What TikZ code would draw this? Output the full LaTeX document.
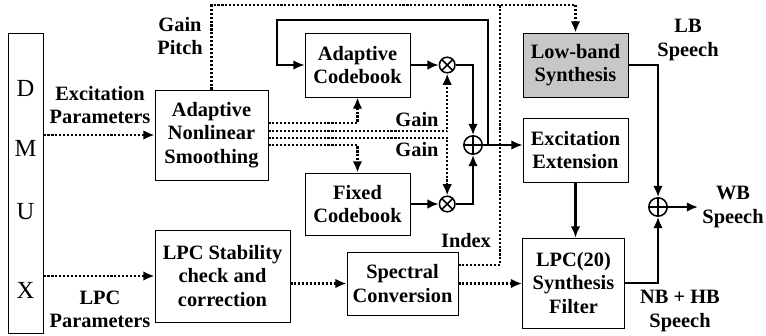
\documentclass[tikz,border=0pt]{standalone}
\usepackage{fontspec}
\setmainfont{Liberation Serif}
\usetikzlibrary{arrows.meta, positioning}

\begin{document}
\begin{tikzpicture}[
    blk/.style={
      draw, line width=0.6pt, align=center, inner sep=2pt,
      font=\fontsize{14.5}{16.5}\selectfont\bfseries
    },
    lbl/.style={align=center, font=\fontsize{14.5}{16.5}\selectfont\bfseries},
    dmuxch/.style={font=\fontsize{17.5}{20}\selectfont},
    mul/.style={
      circle, draw, line width=1.1pt, minimum size=3.9mm, inner sep=0pt,
      path picture={\draw[line width=1.1pt]
        (path picture bounding box.north west) -- (path picture bounding box.south east)
        (path picture bounding box.north east) -- (path picture bounding box.south west);}
    },
    add/.style={
      circle, draw, line width=1.1pt, minimum size=4.6mm, inner sep=0pt,
      path picture={\draw[line width=1.1pt]
        (path picture bounding box.north) -- (path picture bounding box.south)
        (path picture bounding box.west) -- (path picture bounding box.east);}
    },
    sig/.style={line width=1.5pt, -{Latex[length=2.8mm, width=2.4mm]}},
    ctl/.style={line width=1.7pt, dash pattern=on 1.5pt off 1.3pt, -{Latex[length=2.8mm, width=2.4mm]}},
    ctln/.style={line width=1.7pt, dash pattern=on 1.5pt off 1.3pt}
  ]
    \useasboundingbox (0,0) rectangle (19.15,-8.375);

    % --- DMUX ---
    \node[draw, line width=0.6pt, minimum width=0.875cm, minimum height=7.5cm, inner sep=0pt]
      (dmux) at (0.64,-4.575) {};
    \foreach \ch/\yy in {D/-2.2, M/-3.7, U/-5.3, X/-7.25}
      \node[dmuxch] (dmux-\ch) at (0.64,\yy) {\ch};

    % --- blocks ---
    \node[blk, minimum width=2.825cm, minimum height=2.25cm] (smooth) at (5.2875,-3.375)
      {Adaptive\\Nonlinear\\Smoothing};
    \node[blk, minimum width=3.375cm, minimum height=2.3cm] (lpcchk) at (5.5625,-6.9)
      {LPC Stability\\check and\\correction};
    \node[blk, minimum width=2.625cm, minimum height=1.6cm] (acb) at (8.9375,-1.625)
      {Adaptive\\Codebook};
    \node[blk, minimum width=2.625cm, minimum height=1.55cm] (fcb) at (8.9375,-5.1)
      {Fixed\\Codebook};
    \node[blk, minimum width=2.775cm, minimum height=1.575cm] (spec) at (10.0625,-7.0875)
      {Spectral\\Conversion};
    \node[blk, fill=black!22, minimum width=2.625cm, minimum height=1.6cm] (lbs) at (14.3875,-1.625)
      {Low-band\\Synthesis};
    \node[blk, minimum width=2.625cm, minimum height=1.6cm] (exext) at (14.3875,-3.75)
      {Excitation\\Extension};
    \node[blk, minimum width=2.55cm, minimum height=2.25cm] (lpcsyn) at (14.3375,-7.075)
      {LPC(20)\\Synthesis\\Filter};

    \node[mul] (m1)   at (11.18,-1.625) {};
    \node[mul] (m2)   at (11.18,-5.1) {};
    \node[add] (sum1) at (11.825,-3.625) {};
    \node[add] (sum2) at (16.45,-5.175) {};

    \coordinate (fb)    at (12.2,-3.625);
    \coordinate (fbc)   at (6.925,-0.5);
    \coordinate (jtop)  at (12.5,-0.125);
    \coordinate (wbout) at (17.45,-5.175);

    % --- labels ---
    \node[lbl] (gp)    at (4.5,-0.9)      {Gain\\Pitch};
    \node[lbl] (excp)  at (2.5,-2.625)    {Excitation\\Parameters};
    \node[lbl] (lpcp)  at (2.5,-7.725)    {LPC\\Parameters};
    \node[lbl] (gain1) at (10.425,-3.0)   {Gain};
    \node[lbl] (gain2) at (10.425,-3.75)  {Gain};
    \node[lbl] (idx)   at (11.65,-6.025)  {Index};
    \node[lbl] (lbsp)  at (17.2,-1.0)     {LB\\Speech};
    \node[lbl] (wbsp)  at (18.325,-5.175) {WB\\Speech};
    \node[lbl] (nbhb)  at (17.0,-7.775)   {NB + HB\\Speech};

    % --- parameter paths ---
    \draw[ctl] (smooth.west -| dmux.east) -- (smooth.west);
    \draw[ctl] (lpcchk.west -| dmux.east) -- (lpcchk.west);
    \draw[ctl] (spec.west -| lpcchk.east) -- (spec.west);
    \draw[ctl] (spec.east) -- (spec.east -| lpcsyn.west);
    \draw[ctl] ([yshift=0.3cm]smooth.east)   -| (acb.south);
    \draw[ctl] ([yshift=0.1cm]smooth.east)   -| (m1.south);
    \draw[ctl] ([yshift=-0.07cm]smooth.east) -| (m2.north);
    \draw[ctl] ([yshift=-0.25cm]smooth.east) -| (fcb.north);
    \draw[ctl] (smooth.north) |- (jtop) -| (lbs.north);
    \draw[ctln] ([yshift=0.46cm]spec.east) -| (jtop);

    % --- excitation paths ---
    \draw[sig] (acb.east) -- (m1.west);
    \draw[sig] (fcb.east) -- (m2.west);
    \draw[sig] (m1.east) -| (sum1.north);
    \draw[sig] (m2.east) -| (sum1.south);
    \draw[sig] (sum1.east) -- (sum1.east -| exext.west);
    \draw[sig] (fb) |- (fbc) |- (acb.west);
    \draw[sig] (exext.south) -- (exext.south |- lpcsyn.north);
    \draw[sig] (lbs.east) -| (sum2.north);
    \draw[sig] (lpcsyn.east) -| (sum2.south);
    \draw[sig] (sum2.east) -- (wbout);
  \end{tikzpicture}
\end{document}
